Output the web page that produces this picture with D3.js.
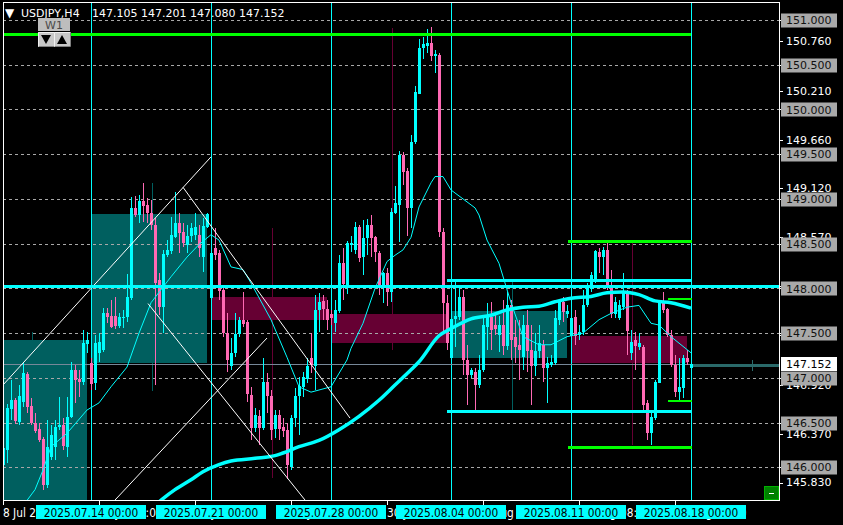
<!DOCTYPE html>
<html><head><meta charset="utf-8">
<script src="https://cdn.jsdelivr.net/npm/d3@7"></script>
<style>
body{margin:0;background:#000;overflow:hidden}
svg{display:block}
text{font-family:"DejaVu Sans",sans-serif}
.cond{font-family:"DejaVu Sans Condensed","DejaVu Sans",sans-serif;font-stretch:condensed}
</style>
</head><body>
<svg id="chart" width="843" height="525"></svg>
<script>
// ---------- DATA ----------
const symbolTitle = "USDJPY,H4";
const titleQuote = "147.105 147.201 147.080 147.152";
// H4 bars (index 0 = 8 Jul 2025 08:00, index 172 = 18 Aug 2025 00:00)
const barOpen = [146.03,146.19,146.65,146.75,146.51,146.73,147.04,146.69,146.50,146.43,146.32,145.81,146.11,146.23,146.45,146.47,146.22,146.56,147.09,146.99,146.95,147.37,
147.17,146.94,147.28,147.31,147.72,147.69,147.69,147.58,147.67,147.68,147.89,148.90,148.82,148.98,148.93,148.84,148.71,148.09,147.79,148.37,148.42,148.57,148.73,148.63,148.49,148.59,148.60,148.60,148.35,148.69,
147.90,148.45,148.40,147.98,147.50,147.14,147.28,147.49,147.65,147.62,146.81,146.44,146.57,146.44,146.95,146.80,146.42,146.58,146.45,146.42,146.00,146.55,146.80,146.90,146.98,147.22,147.13,147.76,147.86,147.77,
147.71,147.62,147.74,148.28,148.02,148.49,148.43,148.69,148.35,148.56,148.71,148.57,148.40,148.02,148.17,147.96,148.84,148.93,149.49,149.31,148.90,149.64,150.18,150.68,150.71,150.74,150.60,150.61,148.63,147.84,
147.22,147.66,147.68,147.90,147.20,147.03,147.06,146.92,147.09,147.57,147.68,147.59,147.48,147.59,147.35,147.81,147.46,147.37,147.23,147.59,147.31,147.13,147.30,147.37,147.11,147.15,147.17,147.65,147.85,147.72,
147.47,147.68,147.48,147.51,147.81,147.99,148.09,148.41,148.35,148.43,148.02,147.72,147.67,147.79,147.95,147.28,147.42,147.35,147.35,146.72,146.38,146.55,146.95,147.85,147.77,147.48,147.14,146.84,146.89,147.22,
147.105];
const barHigh = [146.30,146.71,146.98,146.77,146.92,147.18,147.06,146.77,146.61,146.50,146.34,146.53,146.47,146.53,146.79,146.55,146.79,147.18,147.14,147.09,147.53,147.51,
147.22,147.48,147.50,147.78,147.78,147.87,147.90,147.72,147.76,148.16,149.02,149.03,149.04,149.18,149.01,148.99,148.79,148.17,148.43,148.54,148.80,149.08,148.84,148.73,148.71,148.73,148.84,148.71,148.79,148.84,
148.43,148.68,148.43,148.00,147.72,147.44,147.72,147.68,147.96,147.65,146.90,146.66,146.64,147.22,147.05,146.86,146.64,146.64,146.55,146.50,146.58,146.89,147.01,147.06,147.22,147.50,147.93,147.95,147.93,147.87,
147.76,147.87,148.37,148.45,148.53,148.59,148.74,148.71,148.76,148.78,148.82,148.59,148.42,148.18,148.23,148.90,149.14,149.54,149.52,149.35,149.71,150.26,150.79,150.81,150.90,150.92,150.66,150.63,148.68,147.93,
147.81,148.08,148.02,147.98,147.37,147.11,147.11,147.26,147.70,147.84,147.85,147.74,147.69,147.87,147.96,147.87,147.65,147.65,147.70,147.76,147.59,147.50,147.59,147.42,147.23,147.26,147.76,147.87,147.90,147.81,
147.87,147.76,147.59,147.98,148.06,148.18,148.43,148.45,148.46,148.51,148.21,147.90,147.87,148.17,147.98,147.53,147.51,147.50,147.37,146.75,146.64,146.98,147.87,147.96,147.78,147.53,147.26,147.22,147.26,147.31,
147.201];
const barLow = [145.95,146.05,146.53,146.48,146.47,146.67,146.61,146.47,146.38,146.28,145.75,145.77,146.08,146.08,146.42,146.19,146.11,146.55,146.72,146.79,146.92,147.28,
146.86,146.86,147.18,147.29,147.61,147.56,147.55,147.56,147.56,147.62,147.87,148.80,148.73,148.74,148.73,148.65,146.92,147.70,147.50,148.35,148.38,148.56,148.40,148.46,148.40,148.52,148.54,148.35,148.18,148.68,
147.89,148.32,147.87,147.46,147.06,147.09,147.23,147.46,147.57,146.73,146.31,146.39,146.25,146.42,146.61,146.31,146.33,146.31,146.34,145.87,145.97,146.45,146.36,146.79,146.94,147.05,146.86,147.51,147.65,147.53,
147.59,147.51,147.72,147.87,147.94,148.41,148.38,148.30,148.15,148.37,148.35,148.30,147.93,147.84,147.80,147.85,148.83,148.52,149.16,148.59,148.68,149.61,150.17,150.56,150.63,150.54,150.41,148.57,147.51,147.31,
147.18,147.35,147.65,147.03,146.70,147.00,146.64,146.89,147.06,147.31,147.31,147.48,147.29,147.26,147.31,147.20,147.17,146.98,147.09,147.06,146.70,147.02,147.22,146.95,146.72,147.12,147.14,147.59,147.62,147.67,
147.42,147.37,147.42,147.48,147.79,147.96,148.06,148.17,148.15,147.98,147.67,147.67,147.65,147.76,147.26,147.20,147.09,147.31,146.64,146.31,146.25,146.53,146.94,147.72,147.46,147.12,146.79,146.75,146.77,147.14,
147.080];
const barClose = [146.22,146.66,146.75,146.51,146.80,147.05,146.67,146.50,146.41,146.31,145.81,146.23,146.36,146.45,146.47,146.23,146.56,147.09,146.98,146.96,147.39,147.42,
146.94,147.39,147.40,147.72,147.67,147.57,147.58,147.68,147.68,147.90,148.90,148.82,148.98,148.92,148.84,148.71,148.06,147.79,148.38,148.43,148.60,148.73,148.62,148.51,148.59,148.68,148.69,148.45,148.70,148.83,
148.40,148.37,147.98,147.50,147.20,147.28,147.49,147.65,147.61,146.81,146.44,146.58,146.44,146.95,146.79,146.42,146.58,146.42,146.41,146.03,146.55,146.80,146.91,147.01,147.13,147.14,147.76,147.85,147.77,147.65,
147.66,147.76,148.28,148.04,148.51,148.51,148.69,148.34,148.56,148.71,148.56,148.40,148.02,148.17,147.96,148.85,148.95,149.49,149.30,148.90,149.64,150.20,150.69,150.73,150.74,150.60,150.62,148.63,147.84,147.39,
147.66,147.69,147.90,147.20,147.03,147.09,146.92,147.09,147.59,147.68,147.53,147.55,147.59,147.35,147.81,147.42,147.35,147.31,147.59,147.30,147.13,147.30,147.39,147.11,147.17,147.18,147.67,147.85,147.74,147.75,
147.67,147.47,147.51,147.81,148.00,148.15,148.42,148.35,148.43,148.02,147.72,147.85,147.81,147.95,147.53,147.40,147.35,147.39,146.70,146.38,146.56,146.95,147.85,147.76,147.48,147.14,146.84,146.90,147.22,147.17,
147.152];

// weekly candles overlay (start bar of each week)
const weekStartBar = [-8, 22, 52, 82, 112, 142];
const weekOpen  = [144.50, 147.17, 147.90, 147.71, 147.22, 147.47];
const weekHigh  = [147.51, 149.18, 148.68, 150.91, 148.07, 148.51];
const weekLow   = [144.20, 146.85, 145.88, 147.31, 146.64, 146.25];
const weekClose = [147.42, 148.83, 147.65, 147.39, 147.75, 147.17];

// moving averages: [bar index, price]
const maFastBars = [4,6,8,10,12,16,21,24,27,31,34,37,42,46,49,52,54,57,60,62,67,71,74,77,82,86,87,90,92,93,96,98,100,102,104,107,108,110,112,115,118,119,121,124,127,130,134,137,141,145,149,152,156,159,162,164,167,172];
const maFastVals = [145.45,145.63,145.75,145.97,146.23,146.38,146.64,146.72,146.90,147.12,147.50,147.84,148.13,148.35,148.49,148.60,148.54,148.24,148.21,148.06,147.65,147.23,146.90,146.84,146.90,147.20,147.33,147.61,147.87,148.00,148.30,148.37,148.43,148.57,148.91,149.18,149.25,149.25,149.10,149.00,148.90,148.82,148.54,148.28,147.84,147.46,147.37,147.37,147.46,147.50,147.65,147.72,147.79,147.81,147.61,147.59,147.46,147.28];
const maSlowBars = [34,40,43,47,50,54,57,63,68,70,74,79,84,89,94,98,102,104,109,112,117,122,126,130,134,138,142,147,151,155,159,163,167,172];
const maSlowVals = [145.40,145.65,145.75,145.86,145.95,146.03,146.07,146.10,146.13,146.16,146.23,146.30,146.42,146.57,146.75,146.92,147.09,147.18,147.47,147.55,147.66,147.70,147.76,147.79,147.80,147.85,147.89,147.91,147.95,147.96,147.93,147.86,147.84,147.78];

// trend lines: start/end bar and price
const trendStartBar   = [0, 45, 36.25, 28];
const trendStartPrice = [146.92, 149.13, 147.83, 145.634];
const trendEndBar     = [52, 86.75, 75.5, 66];
const trendEndPrice   = [149.47, 146.55, 145.634, 147.445];

// horizontal levels
const levelPrice = [150.844, 148.03, 148.09, 146.63, 148.53, 146.23, 147.88, 146.74];
const levelFrom  = [0, null, 111, 111, 141.25, 141.25, 166.25, 166.25];
const levelTo    = [172, null, 172.25, 172.25, 172.25, 172.25, 172.25, 172.25];
const levelColor = ["#00ff00","#00ffff","#00ffff","#00ffff","#00ff00","#00ff00","#00ff00","#00ff00"];
const levelWidth = [3, 3, 3, 3, 3, 3, 2, 2];

const bidPrice = 147.152;
const shiftPrice = 147.135;

// axes
const gridPrices = [151.0,150.5,150.0,149.5,149.0,148.5,148.0,147.5,147.0,146.5,146.0];
const scalePrices = [150.76,150.21,149.66,149.12,148.57,148.03,147.48,146.92,146.37,145.83];
const timeTickBars = [0,24,48,72,96,120,144,168];
const timeTickLabels = ["8 Jul 2025","14 Jul 08:00","18 Jul 08:00","24 Jul 08:00","30 Jul 08:00","5 Aug 08:00","11 Aug 08:00","15 Aug 08:00"];
const weekLineBars = [22,52,82,112,142,172];
const weekLineLabels = ["2025.07.14 00:00","2025.07.21 00:00","2025.07.28 00:00","2025.08.04 00:00","2025.08.11 00:00","2025.08.18 00:00"];

// ---------- DRAW ----------
const svg = d3.select("#chart");
const P = {l:3, r:779, t:2, b:500};
const x = d3.scaleLinear().domain([0,172]).range([3,691]);
const y = d3.scaleLinear().domain([146,151]).range([467.3,20]);
const CYAN = "#00ffff", PINK = "#ff69b4";

svg.append("rect").attr("width",843).attr("height",525).attr("fill","#000");
svg.append("defs").append("clipPath").attr("id","plotclip")
  .append("rect").attr("x",P.l).attr("y",P.t).attr("width",P.r-P.l).attr("height",P.b-P.t);
const g = svg.append("g").attr("clip-path","url(#plotclip)");

// weekly candle bodies
const weeks = weekStartBar.map((s,k)=>({s,o:weekOpen[k],h:weekHigh[k],l:weekLow[k],c:weekClose[k]}));
g.selectAll("rect.wk").data(weeks).join("rect")
  .attr("x",d=>x(d.s)).attr("width",d=>x(d.s+29)-x(d.s))
  .attr("y",d=>y(Math.max(d.o,d.c))).attr("height",d=>Math.abs(y(d.o)-y(d.c)))
  .attr("fill",d=>d.c>=d.o?"#005f5f":"#660033").attr("shape-rendering","crispEdges");
g.selectAll("line.wkw").data(weeks).join("line")
  .attr("x1",d=>Math.round(x(d.s+15.2))+0.5).attr("x2",d=>Math.round(x(d.s+15.2))+0.5)
  .attr("y1",d=>y(d.h)).attr("y2",d=>y(d.l))
  .attr("stroke",d=>d.c>=d.o?"#005f5f":"#660033").attr("stroke-width",1).attr("shape-rendering","crispEdges");

// grid
g.selectAll("line.grid").data(gridPrices).join("line")
  .attr("x1",P.l).attr("x2",P.r)
  .attr("y1",d=>Math.round(y(d))+0.5).attr("y2",d=>Math.round(y(d))+0.5)
  .attr("stroke","#a8a8a8").attr("stroke-dasharray","3,3").attr("shape-rendering","crispEdges");

// week separator lines
g.selectAll("line.wsep").data(weekLineBars).join("line")
  .attr("x1",d=>x(d)+0.5).attr("x2",d=>x(d)+0.5).attr("y1",P.t).attr("y2",P.b)
  .attr("stroke",CYAN).attr("stroke-width",1).attr("shape-rendering","crispEdges");

// bid line
g.append("line").attr("x1",P.l).attr("x2",P.r)
  .attr("y1",Math.round(y(bidPrice))+0.5).attr("y2",Math.round(y(bidPrice))+0.5)
  .attr("stroke","#778899").attr("shape-rendering","crispEdges");
g.append("line").attr("x1",x(172.25)).attr("x2",P.r)
  .attr("y1",y(shiftPrice)).attr("y2",y(shiftPrice))
  .attr("stroke","#2a6a6a").attr("stroke-width",3).attr("shape-rendering","crispEdges");
g.append("line").attr("x1",752.5).attr("x2",752.5)
  .attr("y1",y(shiftPrice)-6).attr("y2",y(shiftPrice)+5)
  .attr("stroke","#2a6a6a").attr("shape-rendering","crispEdges");

// candles
const bars = barOpen.map((o,i)=>({i,o,h:barHigh[i],l:barLow[i],c:barClose[i]}));
g.selectAll("line.wick").data(bars).join("line")
  .attr("x1",d=>x(d.i)+0.5).attr("x2",d=>x(d.i)+0.5)
  .attr("y1",d=>y(d.h)).attr("y2",d=>y(d.l))
  .attr("stroke",d=>d.c>=d.o?CYAN:PINK).attr("shape-rendering","crispEdges");
g.selectAll("rect.body").data(bars).join("rect")
  .attr("x",d=>x(d.i)-1).attr("width",3)
  .attr("y",d=>Math.round(y(Math.max(d.o,d.c))))
  .attr("height",d=>Math.max(1,Math.round(Math.abs(y(d.o)-y(d.c)))))
  .attr("fill",d=>d.c>=d.o?CYAN:PINK).attr("shape-rendering","crispEdges");

// moving averages
const line = d3.line().x(d=>x(d[0])).y(d=>y(d[1]));
g.append("path").datum(maFastBars.map((b,k)=>[b,maFastVals[k]]))
  .attr("d",line).attr("fill","none").attr("stroke",CYAN).attr("stroke-width",1);
g.append("path").datum(maSlowBars.map((b,k)=>[b,maSlowVals[k]]))
  .attr("d",d3.line().curve(d3.curveMonotoneX).x(d=>x(d[0])).y(d=>y(d[1])))
  .attr("fill","none").attr("stroke",CYAN).attr("stroke-width",3.5);

// trend lines
g.selectAll("line.trend").data(trendStartBar.map((s,k)=>k)).join("line")
  .attr("x1",k=>x(trendStartBar[k])).attr("y1",k=>y(trendStartPrice[k]))
  .attr("x2",k=>x(trendEndBar[k])).attr("y2",k=>y(trendEndPrice[k]))
  .attr("stroke","#ffffff").attr("stroke-width",1);

// horizontal levels
g.selectAll("line.lvl").data(levelPrice.map((p,k)=>k)).join("line")
  .attr("x1",k=>levelFrom[k]===null?P.l:x(levelFrom[k]))
  .attr("x2",k=>levelTo[k]===null?P.r:x(levelTo[k]))
  .attr("y1",k=>Math.round(y(levelPrice[k]))).attr("y2",k=>Math.round(y(levelPrice[k])))
  .attr("stroke",k=>levelColor[k]).attr("stroke-width",k=>levelWidth[k]).attr("shape-rendering","crispEdges");

// frame
svg.append("rect").attr("x",P.l+0.5).attr("y",P.t+0.5).attr("width",P.r-P.l).attr("height",P.b-P.t)
  .attr("fill","none").attr("stroke","#ffffff").attr("shape-rendering","crispEdges");

// title
svg.append("text").attr("x",5).attr("y",17).attr("fill","#fff").attr("font-size",12).text("\u25BC");
svg.append("text").attr("x",21).attr("y",16.5).attr("fill","#fff").attr("font-size",11).text(symbolTitle);
svg.append("text").attr("x",92).attr("y",16.5).attr("fill","#fff").attr("font-size",11).attr("xml:space","preserve").text(titleQuote);

// W1 buttons
const btn = svg.append("g");
btn.append("rect").attr("x",38).attr("y",18).attr("width",32).attr("height",13).attr("fill","#bdbdbd");
btn.append("text").attr("x",54).attr("y",28.5).attr("text-anchor","middle").attr("font-size",11).attr("fill","#4a4a4a").text("W1");
[38,54].forEach((bx,k)=>{
  btn.append("rect").attr("x",bx).attr("y",32).attr("width",16).attr("height",15).attr("fill","#c8c8c8");
  btn.append("path").attr("d",`M${bx+16.5},32.5V46.5H${bx+0.5}`).attr("fill","none").attr("stroke","#808080");
  btn.append("path").attr("d",`M${bx+0.5},46.5V32.5H${bx+16.5}`).attr("fill","none").attr("stroke","#f0f0f0");
  const cx = bx+8;
  btn.append("path").attr("d",k===0?`M${cx-5},35L${cx+5},35L${cx},44Z`:`M${cx-5},44L${cx+5},44L${cx},35Z`).attr("fill","#000");
});

// right price scale
const ax = svg.append("g");
ax.selectAll("line.tk").data(scalePrices.concat(gridPrices)).join("line")
  .attr("x1",P.r).attr("x2",P.r+4).attr("y1",d=>Math.round(y(d))+0.5).attr("y2",d=>Math.round(y(d))+0.5)
  .attr("stroke","#fff").attr("shape-rendering","crispEdges");
ax.selectAll("text.sc").data(scalePrices).join("text")
  .attr("x",786).attr("y",d=>y(d)).attr("dy","0.36em").attr("font-size",11).attr("fill","#fff")
  .text(d=>d.toFixed(3));
const gb = ax.selectAll("g.gb").data(gridPrices).join("g");
gb.append("rect").attr("x",781).attr("y",d=>Math.round(y(d))-6.5).attr("width",56).attr("height",14).attr("fill","#a9a9a9");
gb.append("text").attr("x",786).attr("y",d=>y(d)).attr("dy","0.38em").attr("font-size",11).attr("fill","#111").text(d=>d.toFixed(3));
ax.append("rect").attr("x",781).attr("y",Math.round(y(bidPrice))-7).attr("width",56).attr("height",14).attr("fill","#fff");
ax.append("text").attr("x",786).attr("y",y(bidPrice)).attr("dy","0.38em").attr("font-size",11).attr("fill","#000").text(bidPrice.toFixed(3));

// time axis
const tx = svg.append("g");
tx.selectAll("line.ttk").data(timeTickBars).join("line")
  .attr("x1",d=>x(d)+0.5).attr("x2",d=>x(d)+0.5).attr("y1",P.b).attr("y2",P.b+5)
  .attr("stroke","#fff").attr("shape-rendering","crispEdges");
tx.selectAll("text.tl").data(timeTickBars).join("text").attr("class","cond")
  .attr("x",d=>x(d)).attr("y",517).attr("font-size",11.8).attr("fill","#fff")
  .text((d,k)=>timeTickLabels[k]);
const wb = tx.selectAll("g.wb").data(weekLineBars).join("g");
wb.append("rect").attr("x",d=>x(d)-55).attr("y",505).attr("width",110).attr("height",14).attr("fill",CYAN);
wb.append("text").attr("class","cond").attr("x",d=>x(d)).attr("y",517).attr("text-anchor","middle").attr("font-size",11.8).attr("fill","#000")
  .text((d,k)=>weekLineLabels[k]);

// small green button
svg.append("rect").attr("x",764.5).attr("y",486.5).attr("width",14).attr("height",13).attr("fill","#008000").attr("stroke","#00b000");
svg.append("line").attr("x1",769).attr("x2",774).attr("y1",493.5).attr("y2",493.5).attr("stroke","#fff").attr("shape-rendering","crispEdges");
</script>
</body></html>
